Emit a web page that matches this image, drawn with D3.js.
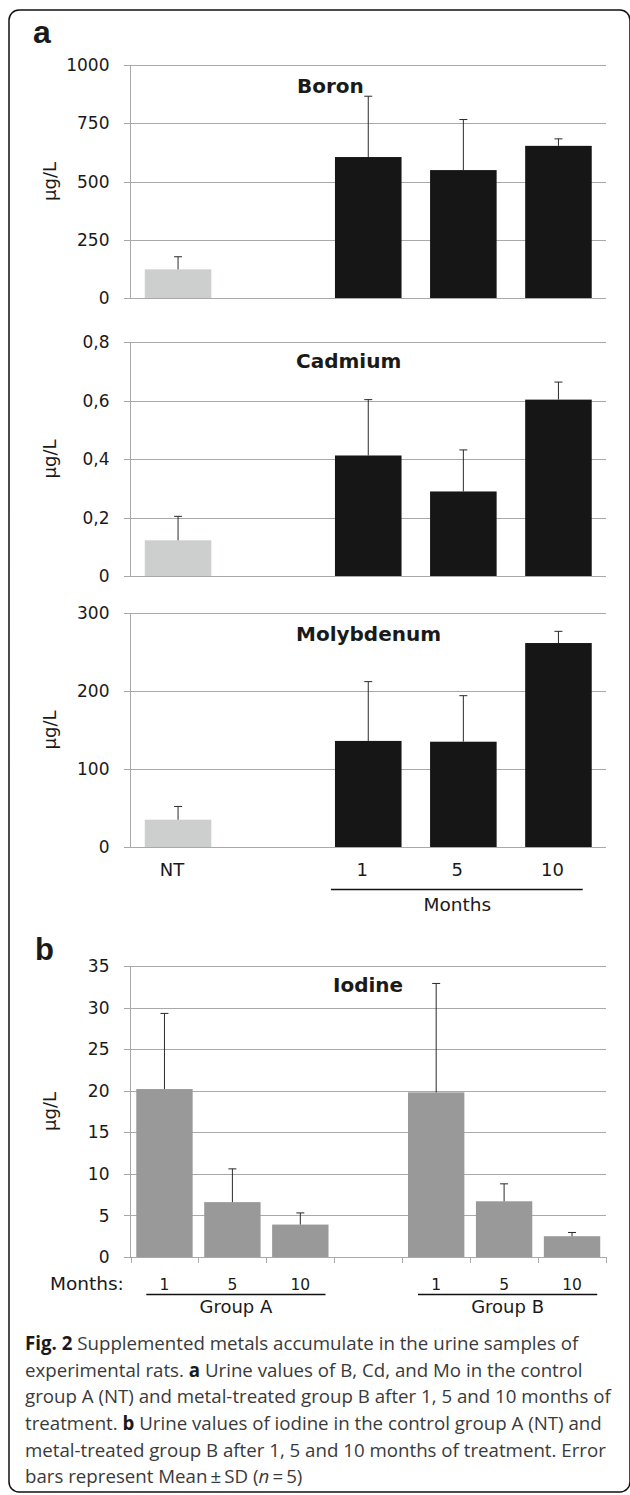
<!DOCTYPE html>
<meta charset="utf-8">
<title>Urine metals in experimental rats</title>
<style>
body { margin: 0; background: #fff; }
text { font-family: "DejaVu Sans", sans-serif; fill: #1a1a1a; }
.grid { stroke: #a9a9a9; stroke-width: 1px; shape-rendering: crispEdges; }
.err { stroke: #2a2a2a; stroke-width: 1px; fill: none; }
.caption text, text.caption { font-family: "Open Sans", sans-serif; fill: #3a3a3a; }
</style>
<script src="https://d3js.org/d3.v7.min.js"></script>
<body>
<script>
var width = 630;
var height = 1495;

// panel a: control (NT), an empty slot, then treated months 1, 5, 10
var catsA = ["NT", "gap", "1", "5", "10"];
var boronMean = [123, null, 605, 549, 653];
var boronSD = [54, null, 261, 217, 30];
var cadmiumMean = [0.122, null, 0.412, 0.289, 0.603];
var cadmiumSD = [0.082, null, 0.191, 0.142, 0.06];
var molyMean = [35, null, 136, 135, 261.5];
var molySD = [17, null, 76, 59, 15];
var boronTicks = [0, 250, 500, 750, 1000];
var cadmiumTicks = [0, 0.2, 0.4, 0.6, 0.8];
var molyTicks = [0, 100, 200, 300];

// panel b: iodine, group A and group B after 1, 5, 10 months
var catsB = ["A1", "A5", "A10", "gap", "B1", "B5", "B10"];
var monthLabelsB = ["1", "5", "10", "", "1", "5", "10"];
var iodineMean = [20.2, 6.6, 3.9, null, 19.8, 6.7, 2.5];
var iodineSD = [9.1, 4.0, 1.4, null, 13.1, 2.1, 0.45];
var iodineTicks = [0, 5, 10, 15, 20, 25, 30, 35];
var groupsB = [
  { name: "Group A", from: "A1", to: "A10" },
  { name: "Group B", from: "B1", to: "B10" }
];

var captionLines = [
  [["Fig. 2", "b"], [" Supplemented metals accumulate in the urine samples of"]],
  [["experimental rats. "], ["a", "b"], [" Urine values of B, Cd, and Mo in the control"]],
  [["group A (NT) and metal-treated group B after 1, 5 and 10 months of"]],
  [["treatment. "], ["b", "b"], [" Urine values of iodine in the control group A (NT) and"]],
  [["metal-treated group B after 1, 5 and 10 months of treatment. Error"]],
  [["bars represent Mean\u2009\u00b1\u2009SD ("], ["n", "i"], ["\u2009=\u20095)"]]
];

var comma = d3.formatLocale({ decimal: ",", thousands: ".", grouping: [3], currency: ["", ""] });
var fmt = comma.format("~g");

var svg = d3.select("body").append("svg")
    .attr("width", width)
    .attr("height", height);

// rounded frame round the figure
svg.append("rect")
    .attr("x", 9).attr("y", 10)
    .attr("width", 621).attr("height", 1482)
    .attr("rx", 10)
    .attr("fill", "none")
    .attr("stroke", "#111")
    .attr("stroke-width", 1.5);

var x0 = 130.5, x1 = 606;

function drawChart(o) {
  var x = d3.scaleBand().domain(o.cats).range([x0, x1])
      .paddingInner(o.pin).paddingOuter(o.pout);
  var y = d3.scaleLinear().domain([0, d3.max(o.ticks)]).range([o.bottom, o.top]);
  var g = svg.append("g");

  g.selectAll(".grid").data(o.ticks).enter().append("line")
      .attr("class", "grid")
      .attr("x1", x0 - 7).attr("x2", x1)
      .attr("y1", function(d) { return Math.round(y(d)) + 0.5; })
      .attr("y2", function(d) { return Math.round(y(d)) + 0.5; });
  g.append("line").attr("class", "grid")
      .attr("x1", x0).attr("x2", x0)
      .attr("y1", y.range()[0]).attr("y2", y.range()[1]);

  g.selectAll(".tick").data(o.ticks).enter().append("text")
      .attr("x", x0 - 21)
      .attr("y", function(d) { return y(d); })
      .attr("dy", "0.36em")
      .attr("text-anchor", "end")
      .style("font-size", "17px")
      .text(fmt);

  g.append("text")
      .attr("transform", "translate(50," + ((o.top + o.bottom) / 2) + ") rotate(-90)")
      .attr("text-anchor", "middle")
      .attr("dy", "0.35em")
      .style("font-size", "18px")
      .text("\u00b5g/L");

  var rows = o.cats.map(function(c, i) { return { c: c, m: o.mean[i], sd: o.sd[i] }; })
      .filter(function(d) { return d.m != null; });

  g.selectAll(".bar").data(rows).enter().append("rect")
      .attr("x", function(d) { return x(d.c); })
      .attr("width", x.bandwidth())
      .attr("y", function(d) { return y(d.m); })
      .attr("height", function(d) { return y(0) - y(d.m); })
      .attr("fill", o.color);

  var cx = function(d) { return x(d.c) + x.bandwidth() / 2; };
  g.selectAll(".errv").data(rows).enter().append("line")
      .attr("class", "err")
      .attr("x1", cx).attr("x2", cx)
      .attr("y1", function(d) { return y(d.m); })
      .attr("y2", function(d) { return y(d.m + d.sd); });
  g.selectAll(".errc").data(rows).enter().append("line")
      .attr("class", "err")
      .attr("x1", function(d) { return cx(d) - 4; })
      .attr("x2", function(d) { return cx(d) + 4; })
      .attr("y1", function(d) { return y(d.m + d.sd); })
      .attr("y2", function(d) { return y(d.m + d.sd); });

  g.append("text")
      .attr("x", o.titleX).attr("y", o.titleY)
      .style("font-size", "20px")
      .style("font-weight", "bold")
      .text(o.title);

  return { x: x, y: y };
}

function treatedColor(d) { return d.c === "NT" ? "#cdcfce" : "#161616"; }

// panel a
svg.append("text").attr("x", 33).attr("y", 43)
    .style("font-family", "'Liberation Sans', Arial, sans-serif")
    .style("font-size", "32px").style("font-weight", "bold")
    .text("a");

drawChart({ cats: catsA, mean: boronMean, sd: boronSD, ticks: boronTicks,
  top: 65, bottom: 298, pin: 0.3, pout: 0.15, color: treatedColor,
  title: "Boron", titleX: 297, titleY: 93 });
drawChart({ cats: catsA, mean: cadmiumMean, sd: cadmiumSD, ticks: cadmiumTicks,
  top: 342, bottom: 576, pin: 0.3, pout: 0.15, color: treatedColor,
  title: "Cadmium", titleX: 296, titleY: 368 });
var mo = drawChart({ cats: catsA, mean: molyMean, sd: molySD, ticks: molyTicks,
  top: 613, bottom: 847, pin: 0.3, pout: 0.15, color: treatedColor,
  title: "Molybdenum", titleX: 296, titleY: 641 });

// category labels under molybdenum
svg.selectAll(".catA").data(catsA.filter(function(c) { return c !== "gap"; }))
  .enter().append("text")
    .attr("x", function(c) { return mo.x(c) + mo.x.bandwidth() / 2 - 6; })
    .attr("y", 876)
    .attr("text-anchor", "middle")
    .style("font-size", "18px")
    .text(function(c) { return c; });
svg.append("line")
    .attr("x1", mo.x("1") - 4).attr("x2", mo.x("10") + mo.x.bandwidth() - 9)
    .attr("y1", 889.5).attr("y2", 889.5)
    .attr("stroke", "#111").attr("stroke-width", 1.5);
svg.append("text")
    .attr("x", (mo.x("1") + mo.x("10") + mo.x.bandwidth()) / 2 - 6)
    .attr("y", 911)
    .attr("text-anchor", "middle")
    .style("font-size", "18.5px")
    .text("Months");

// panel b
svg.append("text").attr("x", 35).attr("y", 960)
    .style("font-family", "'Liberation Sans', Arial, sans-serif")
    .style("font-size", "31px").style("font-weight", "bold")
    .text("b");

var io = drawChart({ cats: catsB, mean: iodineMean, sd: iodineSD, ticks: iodineTicks,
  top: 966, bottom: 1257, pin: 0.17, pout: 0.085, color: function() { return "#999999"; },
  title: "Iodine", titleX: 333, titleY: 992 });

// tick marks between categories on the iodine axis
var bounds = catsB.map(function(c) { return io.x(c) - io.x.step() * io.x.paddingInner() / 2; });
bounds[0] = x0;
bounds.push(x1);
svg.selectAll(".btick").data(bounds).enter().append("line")
    .attr("class", "grid")
    .attr("x1", function(d) { return Math.round(d) + 0.5; })
    .attr("x2", function(d) { return Math.round(d) + 0.5; })
    .attr("y1", 1257).attr("y2", 1263);

svg.append("text").attr("x", 50).attr("y", 1290)
    .style("font-size", "18.5px")
    .text("Months:");
svg.selectAll(".monB").data(catsB).enter().append("text")
    .attr("x", function(c) { return io.x(c) + io.x.bandwidth() / 2; })
    .attr("y", 1290)
    .attr("text-anchor", "middle")
    .style("font-size", "15.5px")
    .text(function(c, i) { return monthLabelsB[i]; });

groupsB.forEach(function(gr) {
  var a = io.x(gr.from) + 10, b = io.x(gr.to) + io.x.bandwidth() - 3;
  svg.append("line")
      .attr("x1", a).attr("x2", b)
      .attr("y1", 1294.5).attr("y2", 1294.5)
      .attr("stroke", "#111").attr("stroke-width", 1.5);
  svg.append("text")
      .attr("x", (a + b) / 2).attr("y", 1313)
      .attr("text-anchor", "middle")
      .style("font-size", "18px")
      .text(gr.name);
});

// caption
var cap = svg.append("g").attr("class", "caption");
captionLines.forEach(function(line, i) {
  var t = cap.append("text")
      .attr("x", 25)
      .attr("y", 1350 + i * 26.65)
      .style("font-size", "18.7px");
  line.forEach(function(seg) {
    var s = t.append("tspan").text(seg[0]);
    if (seg[1] === "b") s.style("font-weight", "bold").style("fill", "#1a1a1a");
    if (seg[1] === "i") s.style("font-style", "italic");
  });
});
</script>
